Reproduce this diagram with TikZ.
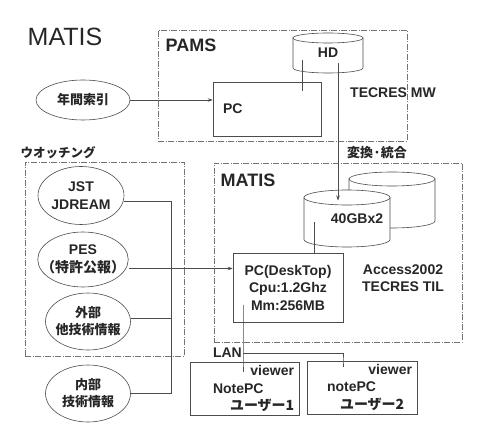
\documentclass[tikz,border=0pt]{standalone}
\usepackage{fontspec}
\setmainfont{Liberation Sans}
\newfontfamily\jp{Noto Sans CJK JP}
\usetikzlibrary{shapes.geometric,arrows.meta}

\begin{document}
\begin{tikzpicture}[x=1pt,y=-1pt,
        every node/.style={text=black!85},
        ln/.style={draw=black!70,line width=.6pt},
        arr/.style={ln,-{Stealth[length=5pt,width=3.5pt]}},
        grp/.style={draw=black!55,line width=.5pt,dash pattern=on 6pt off 1.5pt on 1pt off 1.5pt},
        txt/.style={font=\bfseries\fontsize{14}{17.5}\selectfont,align=center},
        jptxt/.style={font=\jp\bfseries\fontsize{13}{17}\selectfont,align=center},
        src/.style={ellipse,ln,txt,inner xsep=-10pt,inner ysep=0pt},
        pcbox/.style={rectangle,ln,txt}]
    \useasboundingbox (0,0) rectangle (500,438);
    % dashed groups
    \node[grp,minimum width=249,minimum height=111] (pams) at (282.5,85.5) {};
    \node[grp,minimum width=248,minimum height=179] (matis) at (338,252.5) {};
    \node[grp,minimum width=159,minimum height=194] (watch) at (104.5,259) {};
    % labels
    \node[font=\fontsize{25}{28}\selectfont] (title) at (65,37) {MATIS};
    \node[txt,font=\bfseries\fontsize{18}{20}\selectfont] (pamsl) at (191,45) {PAMS};
    \node[txt,font=\bfseries\fontsize{18}{20}\selectfont] (matisl) at (248,180) {MATIS};
    \node[txt] (mw) at (393,93) {TECRES MW};
    \node[jptxt] (conv) at (377,153) {変換·統合};
    \node[jptxt,font=\jp\bfseries\fontsize{12.5}{15}\selectfont] (watchl) at (58,153) {ウオッチング};
    \node[txt] (acc) at (403,278) {Access2002\\TECRES TIL};
    % disks
    \foreach \n/\x/\y/\w/\h/\r/\t in {hd/328/53/70/40/5/HD, back/392/200/86/56/7/{},
            front/347/218.5/86/57/7.5/{\hspace*{20pt}40GBx2}}{
        \draw[ln,fill=white] (\x-\w/2,\y-\h/2+\r) -- (\x-\w/2,\y+\h/2-\r)
            arc[start angle=180,end angle=0,x radius=\w/2,y radius=\r] -- (\x+\w/2,\y-\h/2+\r) -- cycle;
        \draw[ln,fill=white] (\x,\y-\h/2+\r) ellipse[x radius=\w/2,y radius=\r];
        \node[txt,minimum width=\w,minimum height=\h,inner sep=0pt] (\n) at (\x,\y) {\t};
    }
    % PCs
    \node[pcbox,minimum height=54,text width=88,inner xsep=10,align=left] (pc) at (267,109) {PC};
    \node[pcbox,minimum width=110,minimum height=69] (desk) at (288,287.5) {PC(DeskTop)\\Cpu:1.2Ghz\\Mm:256MB};
    \node[pcbox,minimum height=52,text width=99,inner xsep=5,align=left] (note1) at (244.5,389)
        {\hfill viewer\\\hspace*{18pt}NotePC\\\hspace*{35pt}{\jp ユーザー1}};
    \node[pcbox,minimum height=53,text width=100,inner xsep=5,align=left] (note2) at (362,387.5)
        {\hfill viewer\hspace*{14pt}\\\hspace*{15pt}notePC\\\hspace*{28pt}{\jp ユーザー2}};
    % sources
    \node[src,jptxt,minimum width=94,minimum height=40] (nen) at (83,100) {年間索引};
    \node[src,minimum width=86,minimum height=58] (jst) at (81,195.5) {JST\\JDREAM};
    \node[src,minimum width=89,minimum height=55] (pes) at (83,259.5) {PES\\{\jp （特許公報）}};
    \node[src,jptxt,minimum width=85,minimum height=57] (gaibu) at (88,321.5) {外部\\他技術情報};
    \node[src,jptxt,minimum width=85,minimum height=57] (naibu) at (88,393.5) {内部\\技術情報};
    % connectors
    \draw[arr] (nen.east) -- (nen.east -| pc.west);
    \draw[ln] ([xshift=-26pt,yshift=-7pt]hd.center) -- ++(0,31);
    \draw[arr] ([xshift=10pt,yshift=-10pt]hd.center) -- ([xshift=-9pt,yshift=18pt]front.center);
    \draw[ln] ([xshift=-33pt,yshift=-4pt]front.center) -- ([xshift=-33pt]front.center |- desk.north);
    \draw[arr] ([yshift=-9pt]pes.east) -- ([yshift=-9pt]pes.east -| desk.west);
    \coordinate (bus) at (171,0);
    \draw[ln] ([yshift=-6pt]jst.east) -- ([yshift=-6pt]jst.east -| bus) -- (naibu.east -| bus) -- (naibu.east);
    \draw[ln] ([yshift=3pt]gaibu.east) -- ([yshift=3pt]gaibu.east -| bus);
    % LAN
    \coordinate (hub) at (243,353);
    \draw[ln] ([xshift=-45pt,yshift=-17pt]desk.center) -- ([xshift=-45pt]desk.center |- note1.north) -- ++(0,10);
    \draw[ln] (hub) -| ([xshift=-19pt]note2.north) -- ++(0,6);
    \node[txt,anchor=east,inner sep=1pt] (lan) at (hub) {LAN};
\end{tikzpicture}
\end{document}
